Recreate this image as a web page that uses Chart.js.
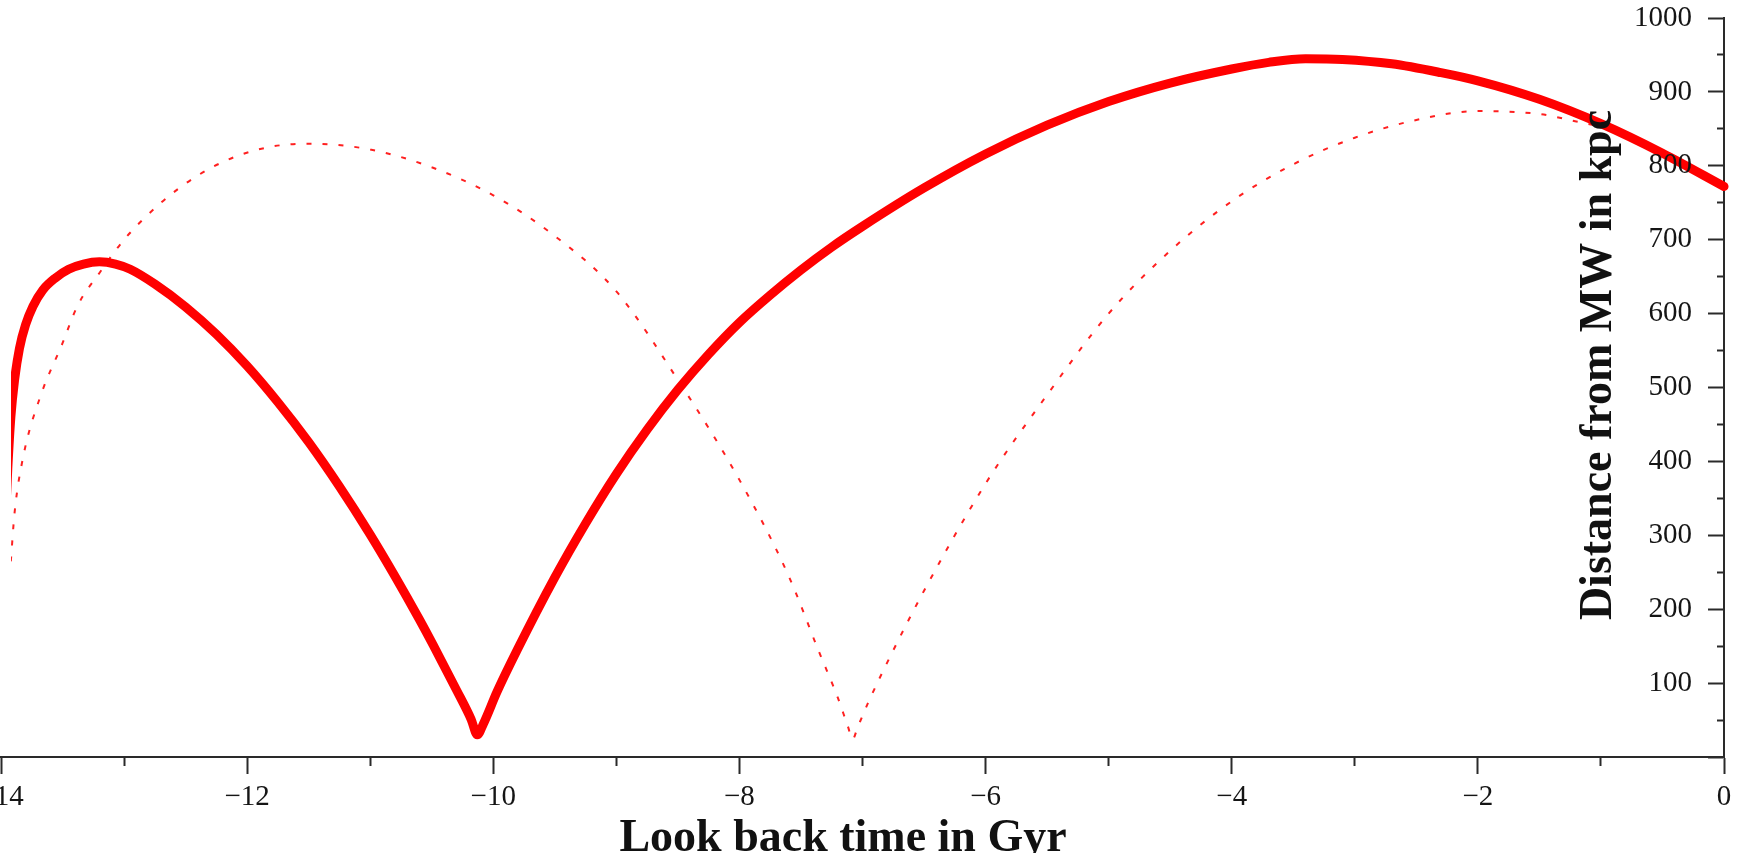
<!DOCTYPE html>
<html>
<head>
<meta charset="utf-8">
<script src="https://cdn.jsdelivr.net/npm/chart.js@4.4.0/dist/chart.umd.min.js"></script>
<style>
  html, body { margin: 0; padding: 0; background: #fff; overflow: hidden; }
  #wrap { position: absolute; left: -40px; top: 0; width: 1783px; height: 853px; }
</style>
</head>
<body>
<div id="wrap"><canvas id="orbitChart" width="1783" height="853"></canvas></div>
<script>
// look back time (Gyr) and distance from the MW (kpc)
const solidTime = [-13.97, -13.945, -13.92, -13.89, -13.85, -13.8, -13.74, -13.66, -13.56, -13.45, -13.33,
  -13.2, -13.07, -12.95, -12.75, -12.5, -12.25, -12.0, -11.75, -11.5, -11.25, -11.0, -10.8, -10.6,
  -10.49, -10.3, -10.18, -10.13, -10.08, -9.97, -9.805, -9.5, -9.25, -9.0, -8.75, -8.5, -8.25, -8.0,
  -7.75, -7.5, -7.25, -7.0, -6.5, -6.0, -5.5, -5.0, -4.5, -4.0, -3.7, -3.4, -3.1, -2.7, -2.3, -2.0,
  -1.5, -1.0, -0.5, 0];
const solidDist = [300, 390, 460, 510, 553, 585, 610, 632, 648, 660, 667,
  670, 667, 660, 640, 609, 572, 529, 480, 426, 366, 301, 245, 186,
  152, 91, 51, 30, 45, 88, 145, 243, 316, 383, 443, 497, 545, 588,
  625, 659, 690, 718, 770, 816, 855, 887, 912, 931, 940, 945, 944, 938, 926, 915,
  890, 857, 817, 772];

const dottedTime = [-13.95, -13.92, -13.89, -13.82, -13.68, -13.5, -13.38, -13.2, -13.0, -12.7, -12.4, -12.1,
  -11.8, -11.5, -11.0, -10.5, -10.0, -9.5, -9.0, -8.48, -8.0, -7.6, -7.36, -7.2, -7.12, -7.08, -7.04, -6.95,
  -6.775, -6.5, -6.0, -5.5, -5.0, -4.5, -4.0, -3.5, -3.0, -2.5, -2.0, -1.5, -1.2, -0.87, -0.5, 0];
const dottedDist = [200, 265, 330, 406, 488, 560, 610, 655, 700, 750, 787, 812,
  826, 830, 822, 798, 760, 705, 630, 505, 375, 245, 145, 80, 42, 24, 40, 75,
  136, 225, 370, 490, 600, 685, 752, 802, 838, 862, 874, 870, 860, 847, 818, 772];

const xMajor = [-14, -12, -10, -8, -6, -4, -2, 0];
const xMinor = [-13, -11, -9, -7, -5, -3, -1];
const yMajor = [0, 100, 200, 300, 400, 500, 600, 700, 800, 900, 1000];
const yMinor = [50, 150, 250, 350, 450, 550, 650, 750, 850, 950];

const xTitle = 'Look back time in Gyr';
const yTitle = 'Distance from MW in kpc';

const axisColor = '#2a2a2a';
const textColor = '#151515';
const tickFont = { family: 'Liberation Serif', size: 29 };

const toPoints = (ts, ds) => ts.map((t, i) => ({ x: t, y: ds[i] }));
const minusLabel = v => (v < 0 ? '\u2212' + Math.abs(v) : String(v));

// y labels sit inside the plot, left of the axis at x = 0; titles are plain canvas text
const axisText = {
    id: 'axisText',
    afterDraw(chart) {
        const { ctx, chartArea, scales } = chart;
        ctx.save();
        ctx.fillStyle = textColor;
        ctx.font = `${tickFont.size}px "${tickFont.family}"`;
        ctx.textAlign = 'right';
        ctx.textBaseline = 'middle';
        yMajor.filter(v => v > 0).forEach(v => {
            ctx.fillText(String(v), chartArea.right - 32, scales.y.getPixelForValue(v));
        });

        ctx.fillStyle = '#111';
        ctx.font = 'bold 46px "Liberation Serif"';
        ctx.textAlign = 'center';
        ctx.fillText(xTitle, chartArea.left + 842, chartArea.bottom + 82);
        ctx.translate(chartArea.right - 125, chartArea.top + 347);
        ctx.rotate(-Math.PI / 2);
        ctx.fillText(yTitle, 0, 0);
        ctx.restore();
    }
};

new Chart(document.getElementById('orbitChart'), {
    type: 'line',
    data: {
        datasets: [{
            data: toPoints(solidTime, solidDist),
            borderColor: '#ff0000',
            borderWidth: 9,
            borderCapStyle: 'round',
            borderJoinStyle: 'round',
            cubicInterpolationMode: 'monotone',
            pointRadius: 0,
            fill: false,
            clip: { left: -10, top: 10, right: 10, bottom: 10 }
        }, {
            data: toPoints(dottedTime, dottedDist),
            borderColor: '#ff2020',
            borderWidth: 2,
            borderDash: [5, 11],
            cubicInterpolationMode: 'monotone',
            pointRadius: 0,
            fill: false,
            clip: { left: -10, top: 10, right: 10, bottom: 10 }
        }]
    },
    options: {
        responsive: false,
        animation: false,
        layout: { padding: { left: 41, right: 19, top: 18, bottom: 0 } },
        plugins: { legend: { display: false }, tooltip: { enabled: false } },
        scales: {
            x: {
                type: 'linear', position: 'bottom', min: -14, max: 0,
                afterBuildTicks: s => { s.ticks = xMajor.map(v => ({ value: v })); },
                afterFit: s => { s.height = 96; },
                grid: { drawOnChartArea: false, tickLength: 17, tickWidth: 2, tickColor: axisColor },
                border: { color: axisColor, width: 2 },
                ticks: { font: tickFont, color: textColor, padding: 6, maxRotation: 0, autoSkip: false, callback: minusLabel }
            },
            xMinor: {
                type: 'linear', axis: 'x', position: { y: 0 }, min: -14, max: 0,
                afterBuildTicks: s => { s.ticks = xMinor.map(v => ({ value: v })); },
                grid: { drawOnChartArea: false, tickLength: 9, tickWidth: 2, tickColor: axisColor },
                border: { display: false },
                ticks: { display: false }
            },
            y: {
                type: 'linear', position: { x: 0 }, min: 0, max: 1000,
                afterBuildTicks: s => { s.ticks = yMajor.map(v => ({ value: v })); },
                grid: { drawOnChartArea: false, tickLength: 15, tickWidth: 2, tickColor: axisColor },
                border: { color: axisColor, width: 2 },
                ticks: { display: false }
            },
            yMinor: {
                type: 'linear', axis: 'y', position: { x: 0 }, min: 0, max: 1000,
                afterBuildTicks: s => { s.ticks = yMinor.map(v => ({ value: v })); },
                grid: { drawOnChartArea: false, tickLength: 7, tickWidth: 2, tickColor: axisColor },
                border: { display: false },
                ticks: { display: false }
            }
        }
    },
    plugins: [axisText]
});
</script>
</body>
</html>
